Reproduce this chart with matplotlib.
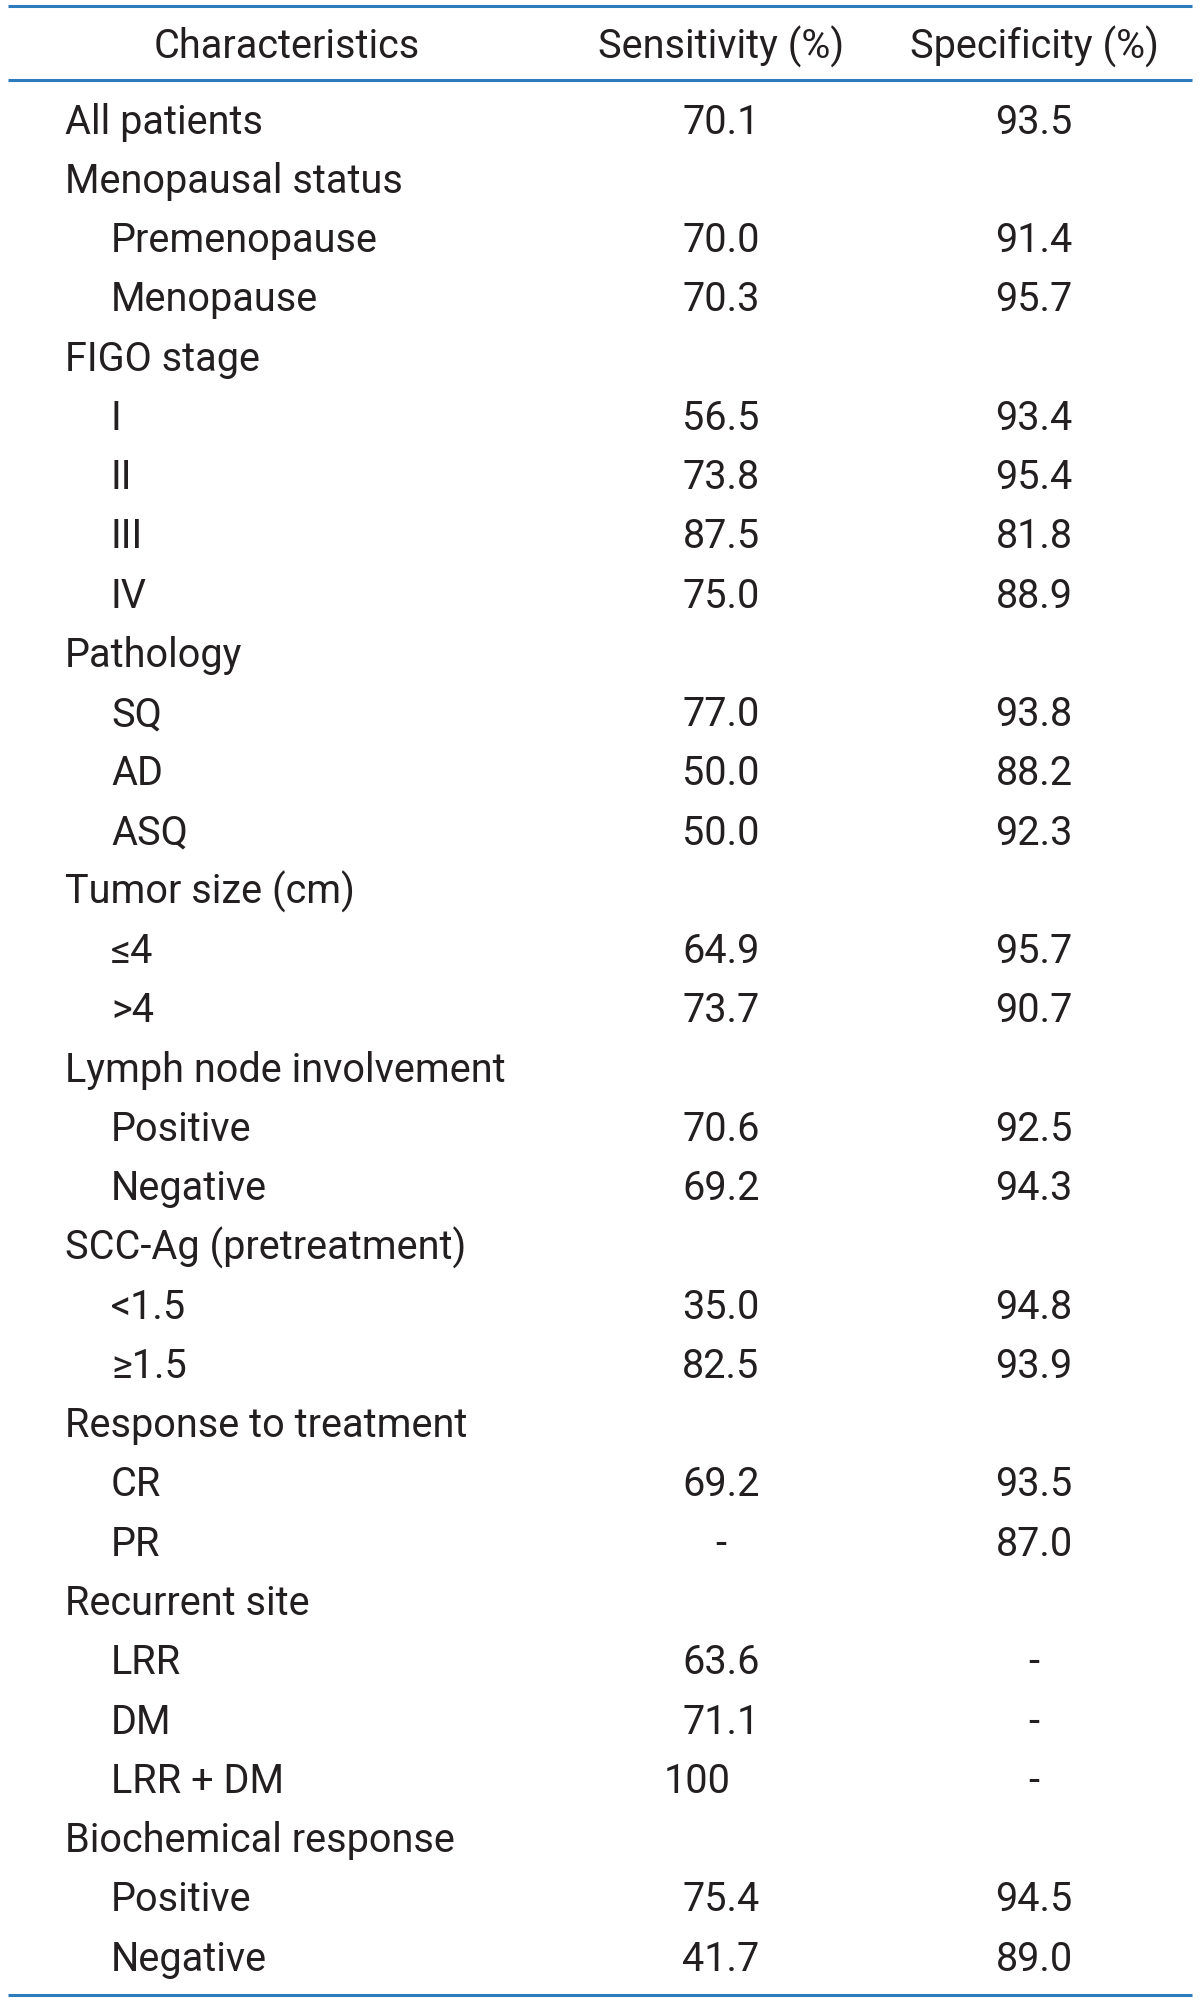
import matplotlib
matplotlib.use("Agg")
import matplotlib.pyplot as plt

header = ["Characteristics", "Sensitivity (%)", "Specificity (%)"]

labels = ["All patients", "Menopausal status", "Premenopause", "Menopause",
          "FIGO stage", "I", "II", "III", "IV",
          "Pathology", "SQ", "AD", "ASQ",
          "Tumor size (cm)", "\u22644", ">4",
          "Lymph node involvement", "Positive", "Negative",
          "SCC-Ag (pretreatment)", "<1.5", "\u22651.5",
          "Response to treatment", "CR", "PR",
          "Recurrent site", "LRR", "DM", "LRR + DM",
          "Biochemical response", "Positive", "Negative"]
indent = [0, 0, 1, 1, 0, 1, 1, 1, 1, 0, 1, 1, 1, 0, 1, 1, 0, 1, 1, 0, 1, 1,
          0, 1, 1, 0, 1, 1, 1, 0, 1, 1]
sensitivity = ["70.1", "", "70.0", "70.3", "", "56.5", "73.8", "87.5", "75.0",
               "", "77.0", "50.0", "50.0", "", "64.9", "73.7", "", "70.6", "69.2",
               "", "35.0", "82.5", "", "69.2", "-", "", "63.6", "71.1", "100",
               "", "75.4", "41.7"]
specificity = ["93.5", "", "91.4", "95.7", "", "93.4", "95.4", "81.8", "88.9",
               "", "93.8", "88.2", "92.3", "", "95.7", "90.7", "", "92.5", "94.3",
               "", "94.8", "93.9", "", "93.5", "87.0", "", "-", "-", "-",
               "", "94.5", "89.0"]

font = ["Roboto", "DejaVu Sans"]
txt_color = "#231f20"
line_color = "#2b7bbd"
fs = 28.5


def put(ax, x, y, s, ha="center"):
    ax.text(x, y, s, ha=ha, va="center", fontsize=fs, family=font,
            weight="normal", color=txt_color)


fig = plt.figure(figsize=(12, 20.02), dpi=100)
ax = fig.add_axes([0, 0, 1, 1])
ax.set_xlim(0, 1200)
ax.set_ylim(2002, 0)
ax.axis("off")

# rules
ax.hlines([6, 80, 1995], 8, 1192, color=line_color, lw=2.2)

put(ax, 287, 47, header[0])
put(ax, 721, 47, header[1])
put(ax, 1034, 47, header[2])

y0, dy = 122, 59.26
x_lab = [65, 111]

for i, lab in enumerate(labels):
    y = y0 + i * dy
    put(ax, x_lab[indent[i]], y, lab, ha="left")
    s = sensitivity[i]
    if s and "." not in s and s != "-":
        put(ax, 731, y, s, ha="right")
    elif s:
        put(ax, 721, y, s)
    if specificity[i]:
        put(ax, 1034, y, specificity[i])

fig.savefig("out.png", dpi=100)
